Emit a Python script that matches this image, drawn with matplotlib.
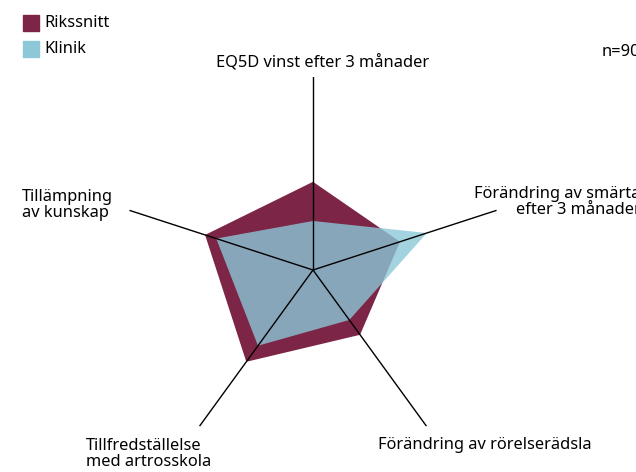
import numpy as np
import matplotlib
matplotlib.use("Agg")
import matplotlib.pyplot as plt
from matplotlib.patches import Rectangle

# axes in clockwise order starting at the top
labels = ["EQ5D vinst efter 3 månader",
          "Förändring av smärta\nefter 3 månader",
          "Förändring av rörelserädsla",
          "Tillfredställelse\nmed artrosskola",
          "Tillämpning\nav kunskap"]
rikssnitt = [0.457, 0.474, 0.415, 0.588, 0.588]
klinik = [0.254, 0.62, 0.32, 0.485, 0.527]
series_names = ["Rikssnitt", "Klinik"]
n_text = "n=90"

maroon = "#7d2546"
blue = "#8cc8d7"

plt.rcParams["font.family"] = ["Noto Sans", "DejaVu Sans"]

W, H = 636, 472
fig = plt.figure(figsize=(W / 100, H / 100), dpi=100)

# pixel helpers
def fx(x):
	return x / W

def fy(y):
	return 1 - y / H

cx, cy, R = 313, 270, 193
ax = fig.add_axes([fx(cx - R), fy(cy + R), 2 * R / W, 2 * R / H], projection="polar")
ax.set_theta_offset(np.pi / 2)
ax.set_theta_direction(-1)
ax.set_ylim(0, 1)
ax.grid(False)
ax.set_xticks([])
ax.set_yticks([])
ax.spines["polar"].set_visible(False)
ax.patch.set_alpha(0)

angles = np.linspace(0, 2 * np.pi, len(labels), endpoint=False)
a_closed = np.append(angles, angles[0])

ax.fill(a_closed, rikssnitt + rikssnitt[:1], color=maroon, lw=0, zorder=2)
ax.fill(a_closed, klinik + klinik[:1], color=blue, alpha=0.8, lw=0, zorder=3)
for a in angles:
	ax.plot([a, a], [0, 1], color="black", lw=1.0, zorder=4)

fs = 11.8
ls = 1.08
fig.text(fx(323), fy(62), labels[0], ha="center", va="center", fontsize=fs)
fig.text(fx(474), fy(202), labels[1], ha="left", va="center", multialignment="right",
		 fontsize=fs, linespacing=ls)
fig.text(fx(378), fy(445), labels[2], ha="left", va="center", fontsize=fs)
fig.text(fx(86), fy(454), labels[3], ha="left", va="center", fontsize=fs, linespacing=ls)
fig.text(fx(22), fy(205), labels[4], ha="left", va="center", fontsize=fs, linespacing=ls)
fig.text(fx(602), fy(52), n_text, ha="left", va="center", fontsize=fs)

# legend
for i, (name, col) in enumerate(zip(series_names, [maroon, blue])):
	y0 = 15 + i * 26
	fig.patches.append(Rectangle((fx(23), fy(y0 + 16)), 16 / W, 16 / H, color=col,
								 transform=fig.transFigure, figure=fig))
	fig.text(fx(44), fy(y0 + 8), name, ha="left", va="center", fontsize=fs)

fig.savefig("out.png", dpi=100)
